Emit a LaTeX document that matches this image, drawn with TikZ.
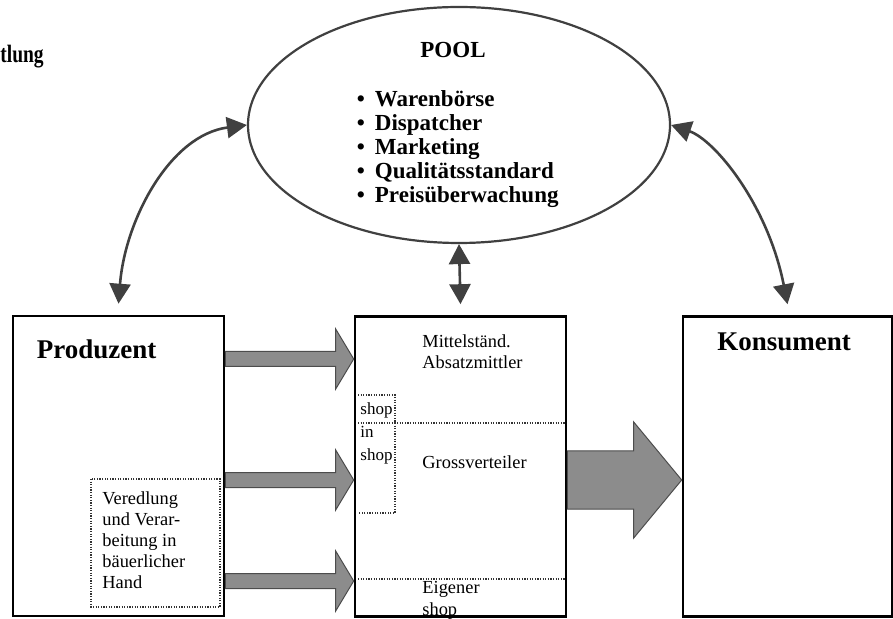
\documentclass[tikz,border=0pt]{standalone}
\usepackage{fontspec}
\setmainfont{Liberation Serif}
\usetikzlibrary{shapes.geometric,arrows.meta,calc}

\definecolor{linkgray}{gray}{0.25}
\definecolor{flowfill}{gray}{0.55}
\definecolor{flowedge}{gray}{0.3}

\tikzset{
  stagebox/.style={draw=black, line width=1.3pt, minimum width=105.5pt, minimum height=150pt, inner sep=0pt},
  linkarrow/.style={draw=linkgray, line width=1.3pt, {Triangle[length=10pt,width=10.5pt]}-{Triangle[length=10pt,width=10.5pt]}},
  flowbody/.style={fill=flowfill, draw=flowedge, line width=0.5pt},
  zoneline/.style={draw=black!80, line width=0.6pt, dash pattern=on 0.6pt off 0.7pt},
  stagetitle/.style={font=\fontsize{13.5}{16}\selectfont\bfseries, inner sep=0pt},
  pooltext/.style={font=\fontsize{11.5}{12}\selectfont\bfseries, inner sep=0pt},
  notetext/.style={font=\fontsize{9.2}{10.5}\selectfont, inner sep=0pt, align=left},
}

% block arrow: from, to, level, shaft half, head half, head length
\newcommand{\flowto}[6]{%
  \draw[flowbody] (#1.east |- #3) ++(0,-#4)
    -- ($(#2.west |- #3)+(-#6,-#4)$) -- ++(0,#4-#5)
    -- (#2.west |- #3)
    -- ($(#2.west |- #3)+(-#6,#5)$) -- ++(0,#4-#5)
    -- ($(#1.east |- #3)+(0,#4)$) -- cycle;}
\newcommand{\poolitem}{\textbullet\hspace{5pt}}

\begin{document}
\begin{tikzpicture}[x=0.5pt, y=-0.5pt]
	\useasboundingbox (0,0) rectangle (893,619);
	% boxes
	\node[stagebox] (prod) at (118.5,466) {};
	\node[stagebox] (mid) at (460.5,466.5) {};
	\node[stagebox, minimum width=104.5pt] (kons) at (787.5,466.5) {};
	\node[draw=linkgray, line width=1.1pt, ellipse, minimum width=211pt, minimum height=118pt, inner sep=0pt] (pool) at (459,125) {};

	% texts
	\node[anchor=base west, font=\fontsize{12.5}{14}\selectfont\bfseries, inner sep=0pt] (cut) at (0,63) {\scalebox{0.78}[1]{tlung}};
	\node[pooltext, anchor=base] (pooltitle) at (453,58) {POOL};
	\node[pooltext, anchor=north west, align=left] (poollist) at (356.5,90.5)
		{\poolitem Warenbörse\\ \poolitem Dispatcher\\ \poolitem Marketing\\ \poolitem Qualitätsstandard\\ \poolitem Preisüberwachung};
	\node[stagetitle, anchor=base] (prodtitle) at (96.5,359) {Produzent};
	\node[stagetitle, anchor=base] (konstitle) at (784,351) {Konsument};
	\node[notetext, anchor=north west] (veredl) at (102,491) {Veredlung\\und Verar-\\beitung in\\bäuerlicher\\Hand};
	\node[notetext, anchor=north west] (mittel) at (422,334.5) {Mittelständ.\\Absatzmittler};
	\node[notetext, anchor=base west] (gross) at (422,468) {Grossverteiler};
	\node[notetext, anchor=base west, font=\fontsize{8.5}{11.5}\selectfont] (shopa) at (360,415) {shop};
	\node[notetext, anchor=north west, font=\fontsize{8.5}{11.5}\selectfont] (shopb) at (360,425.4) {in\\shop};
	\node[notetext, anchor=north west, font=\fontsize{9.2}{11}\selectfont] (eigen) at (422,580.5) {Eigener\\shop};

	% dotted zones
	\draw[zoneline] (91,479) rectangle (220,607);
	\draw[zoneline] (358,395) -- (395,395) -- (395,513) -- (358,513);
	\draw[zoneline] (358,423) -- (565,423);
	\draw[zoneline] (358,579) -- (565,579);

	% goods flow
	\coordinate (lvlA) at (0,359);
	\coordinate (lvlB) at (0,480);
	\coordinate (lvlC) at (0,581);
	\flowto{prod}{mid}{lvlA}{7.5}{30}{18}
	\flowto{prod}{mid}{lvlB}{7.5}{30}{18}
	\flowto{prod}{mid}{lvlC}{7.5}{30}{18}
	\flowto{mid}{kons}{lvlB}{29}{58}{48}

	% links to the pool
	\draw[linkarrow] (pool.west) .. controls (170,135) and (125,220) .. ([yshift=5.5pt]prod.north);
	\draw[linkarrow] (pool.east) .. controls (715,140) and (768,205) .. ([yshift=5.5pt]kons.north);
	\draw[linkarrow] (pool.south) -- ([yshift=5.5pt]mid.north);
\end{tikzpicture}
\end{document}
